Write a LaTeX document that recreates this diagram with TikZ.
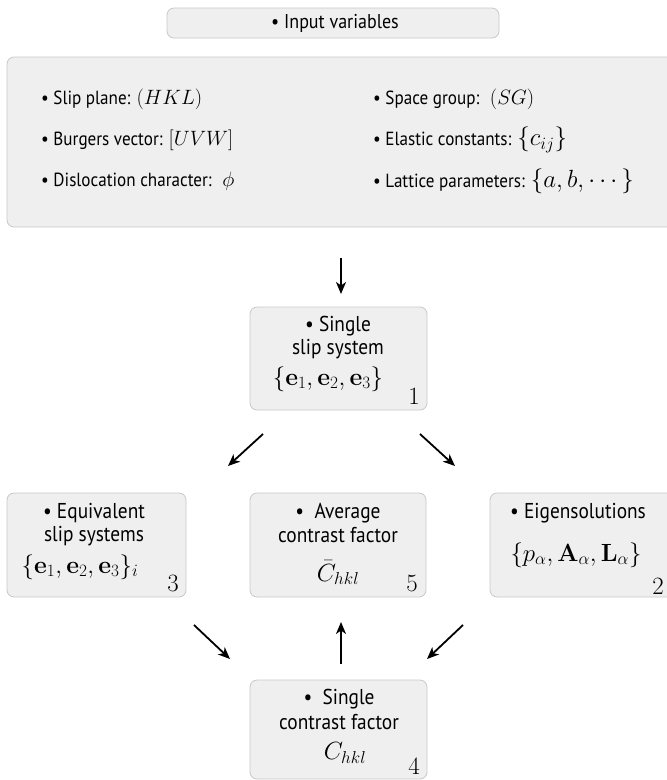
\documentclass[tikz,border=0pt]{standalone}
\usepackage[no-math]{fontspec}
\setmainfont{PT Sans}[FakeStretch=0.9]
\usepackage{amsmath}
\usetikzlibrary{arrows.meta}
\definecolor{boxfill}{HTML}{EFEFEF}
\definecolor{boxline}{HTML}{C8C8C8}
\newcommand{\inmath}[1]{{\fontsize{21.5}{24}\selectfont$#1$}}
\tikzset{
  panel/.style={draw=boxline, fill=boxfill, rounded corners=7pt, line width=0.8pt},
  toptxt/.style={inner sep=0pt, font=\fontsize{20}{24}\selectfont},
  intxt/.style={inner sep=0pt, anchor=west, font=\fontsize{19}{22}\selectfont},
  btxt/.style={inner sep=0pt, font=\fontsize{21.5}{25}\selectfont},
  bmath/.style={inner sep=0pt, font=\fontsize{23}{27}\selectfont},
  num/.style={inner sep=0pt, font=\fontsize{27}{30}\selectfont},
  flow/.style={line width=1.8pt, -{Stealth[length=12pt,width=10pt,inset=3.5pt]}},
}
\begin{document}
\begin{tikzpicture}[x=1pt,y=-1pt]
\useasboundingbox (0,0) rectangle (667,780);
% top box
\draw[panel] (167,8) rectangle (499,38);
\node[toptxt] (tin) at (335,23) {\textbullet\ Input variables};
% big input box
\draw[panel] (7,57) rectangle (675,227);
\node[intxt] (sp) at (41,99) {\textbullet\ Slip plane: \inmath{(HKL)}};
\node[intxt] (bv) at (41,140) {\textbullet\ Burgers vector: \inmath{[UVW]}};
\node[intxt] (dc) at (41,181) {\textbullet\ Dislocation character: \ \inmath{\phi}};
\node[intxt] (sg) at (373,99) {\textbullet\ Space group: \ \inmath{(SG)}};
\node[intxt] (ec) at (373,140) {\textbullet\ Elastic constants: {\fontsize{23}{25}\selectfont$\{c_{ij}\}$}};
\node[intxt] (lp) at (373,181) {\textbullet\ Lattice parameters: {\fontsize{23}{25}\selectfont$\{a,b,\cdots\}$}};
% box 1
\draw[panel] (250,307) rectangle (427,410);
\node[btxt] (b1a) at (338,326) {\textbullet\ Single};
\node[btxt] (b1b) at (338,349) {slip system};
\node[bmath] (b1c) at (328,379) {$\{\mathbf{e}_1,\mathbf{e}_2,\mathbf{e}_3\}$};
\node[num] (n1) at (414,396) {$1$};
% box 3
\draw[panel] (7,493) rectangle (186,597);
\node[btxt] (b3a) at (94,513) {\textbullet\ Equivalent};
\node[btxt] (b3b) at (94,536) {slip systems};
\node[bmath] (b3c) at (80,567) {$\{\mathbf{e}_1,\mathbf{e}_2,\mathbf{e}_3\}_i$};
\node[num] (n3) at (173,583) {$3$};
% box 5
\draw[panel] (250,493) rectangle (426,597);
\node[btxt] (b5a) at (338,513) {\textbullet\ \ Average};
\node[btxt] (b5b) at (338,535) {contrast factor};
\node[bmath] (b5c) at (338,573) {$\bar{C}_{hkl}$};
\node[num] (n5) at (412,583) {$5$};
% box 2
\draw[panel] (490,493) rectangle (675,597);
\node[btxt] (b2a) at (578,513) {\textbullet\ Eigensolutions};
\node[bmath] (b2c) at (576,555) {$\{p_\alpha,\mathbf{A}_\alpha,\mathbf{L}_\alpha\}$};
\node[num] (n2) at (658,586) {$2$};
% box 4
\draw[panel] (250,680) rectangle (427,779);
\node[btxt] (b4a) at (339,699) {\textbullet\ \ Single};
\node[btxt] (b4b) at (339,722) {contrast factor};
\node[bmath] (b4c) at (345,753) {$C_{hkl}$};
\node[num] (n4) at (414,766) {$4$};
% arrow end points
\coordinate (a0s) at (341,258); \coordinate (a0e) at (341,294);
\coordinate (a1s) at (263,434); \coordinate (a1e) at (228,466);
\coordinate (a2s) at (420,434); \coordinate (a2e) at (455,466);
\coordinate (a3s) at (194,625); \coordinate (a3e) at (230,659);
\coordinate (a4s) at (341,664); \coordinate (a4e) at (341,622);
\coordinate (a5s) at (463,625); \coordinate (a5e) at (427,659);
\draw[flow] (a0s) -- (a0e);
\draw[flow] (a1s) -- (a1e);
\draw[flow] (a2s) -- (a2e);
\draw[flow] (a3s) -- (a3e);
\draw[flow] (a4s) -- (a4e);
\draw[flow] (a5s) -- (a5e);
\end{tikzpicture}
\end{document}
